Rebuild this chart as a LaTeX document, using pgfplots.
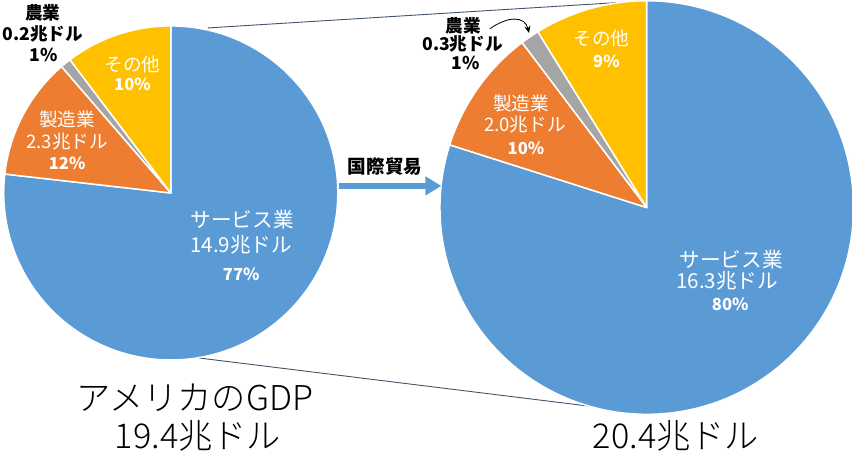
\documentclass[border=0pt]{standalone}
\usepackage{pgfplots}
\pgfplotsset{compat=1.18}
\usepackage{pgfplotstable}
\usetikzlibrary{arrows.meta}
\usepackage{fontspec}
\setmainfont{Noto Sans CJK JP}
\newfontfamily\jplight{Noto Sans CJK JP Light}
\definecolor{sblue}{HTML}{5B9BD5}
\definecolor{sorange}{HTML}{ED7D31}
\definecolor{sgray}{HTML}{A5A5A5}
\definecolor{syellow}{HTML}{FFC000}
\definecolor{sline}{HTML}{44546A}

% shares of US GDP (trillion dollars), drawn clockwise from 12 o'clock
\pgfplotstableread{
sector value color
services 14.9 sblue
manuf 2.3 sorange
agri 0.2 sgray
other 2.0 syellow
}\leftpie
\pgfplotstableread{
sector value color
services 16.3 sblue
manuf 2.0 sorange
agri 0.3 sgray
other 1.8 syellow
}\rightpie

\newcommand\drawpie[4]{%
  \pgfplotstablegetrowsof{#1}%
  \pgfmathtruncatemacro\lastrow{\pgfplotsretval-1}%
  \gdef\pietotal{0}%
  \foreach \i in {0,...,\lastrow}{%
    \pgfplotstablegetelem{\i}{value}\of{#1}%
    \pgfmathparse{\pietotal+\pgfplotsretval}\xdef\pietotal{\pgfmathresult}}%
  \gdef\piestart{90}%
  \foreach \i in {0,...,\lastrow}{%
    \pgfplotstablegetelem{\i}{value}\of{#1}%
    \pgfmathsetmacro\pieend{\piestart-360*\pgfplotsretval/\pietotal}%
    \pgfplotstablegetelem{\i}{color}\of{#1}%
    \edef\piecol{\pgfplotsretval}%
    \fill[fill=\piecol, draw=white, line width=1.5pt, line join=round]
      (axis cs:#2,#3) -- ++(\piestart:#4pt)
      arc[start angle=\piestart, end angle=\pieend, radius=#4pt] -- cycle;%
    \xdef\piestart{\pieend}}%
}

\tikzset{
  wl/.style={text=white, font=\fontsize{18.5}{20}\selectfont, inner sep=0pt},
  wlb/.style={text=white, font=\fontsize{20.5}{22}\selectfont, inner sep=0pt},
  wp/.style={text=white, font=\bfseries\fontsize{16.5}{18}\selectfont, inner sep=0pt},
  bl/.style={text=black, font=\bfseries\fontsize{17.5}{18}\selectfont, inner sep=0pt},
  tl/.style={text=black, font=\jplight\fontsize{34}{36}\selectfont, inner sep=0pt},
}

\begin{document}
\begin{tikzpicture}
\begin{axis}[
  width=852pt, height=455pt, scale only axis,
  xmin=0, xmax=852, ymin=0, ymax=455, y dir=reverse,
  hide axis, clip=true,
]
% connecting lines
\addplot[sline, line width=0.9pt] coordinates {(212,32) (648,5)};
\addplot[sline, line width=0.9pt] coordinates {(203,360) (600,409)};
% pies
\pgfplotsextra{\drawpie{\leftpie}{175}{196}{166}}
\pgfplotsextra{\drawpie{\rightpie}{648}{210.5}{205.5}}
% trade arrow
\addplot[sblue, line width=5.5pt, -{Triangle[length=16pt,width=18pt]}] coordinates {(342,189) (444,189)};
\node[text=black, font=\bfseries\fontsize{18.5}{20}\selectfont, inner sep=0pt] at (axis cs:388,170) {国際貿易};

% left pie labels
\node[bl] at (axis cs:48,17) {農業};
\node[bl] at (axis cs:48,38) {0.2兆ドル};
\node[bl] at (axis cs:49,59) {1\%};
\node[wl] at (axis cs:137,68) {その他};
\node[wp] at (axis cs:137,88) {10\%};
\node[wl] at (axis cs:72,123) {製造業};
\node[wl] at (axis cs:72,145) {2.3兆ドル};
\node[wp] at (axis cs:72,167) {12\%};
\node[wlb] at (axis cs:246,223) {サービス業};
\node[wlb] at (axis cs:245,248) {14.9兆ドル};
\node[wp] at (axis cs:245,277) {77\%};

% right pie labels
\node[bl] at (axis cs:466,30) {農業};
\node[bl] at (axis cs:465,48) {0.3兆ドル};
\node[bl] at (axis cs:468,67) {1\%};
\draw[black, line width=0.8pt, -{Stealth[length=7pt,width=6pt]}] (axis cs:492,33) .. controls (axis cs:510,20) and (axis cs:527,20) .. (axis cs:531,37);
\node[wl] at (axis cs:523,107) {製造業};
\node[wl] at (axis cs:527,128) {2.0兆ドル};
\node[wp] at (axis cs:528,152) {10\%};
\node[wl] at (axis cs:603,42) {その他};
\node[wp] at (axis cs:608,65) {9\%};
\node[wlb] at (axis cs:732,262) {サービス業};
\node[wlb] at (axis cs:728,283) {16.3兆ドル};
\node[wp] at (axis cs:731,307) {80\%};

% titles
\node[tl] at (axis cs:199,400) {アメリカのGDP};
\node[tl] at (axis cs:202,437) {19.4兆ドル};
\node[tl] at (axis cs:677,437) {20.4兆ドル};
\end{axis}
\end{tikzpicture}
\end{document}
